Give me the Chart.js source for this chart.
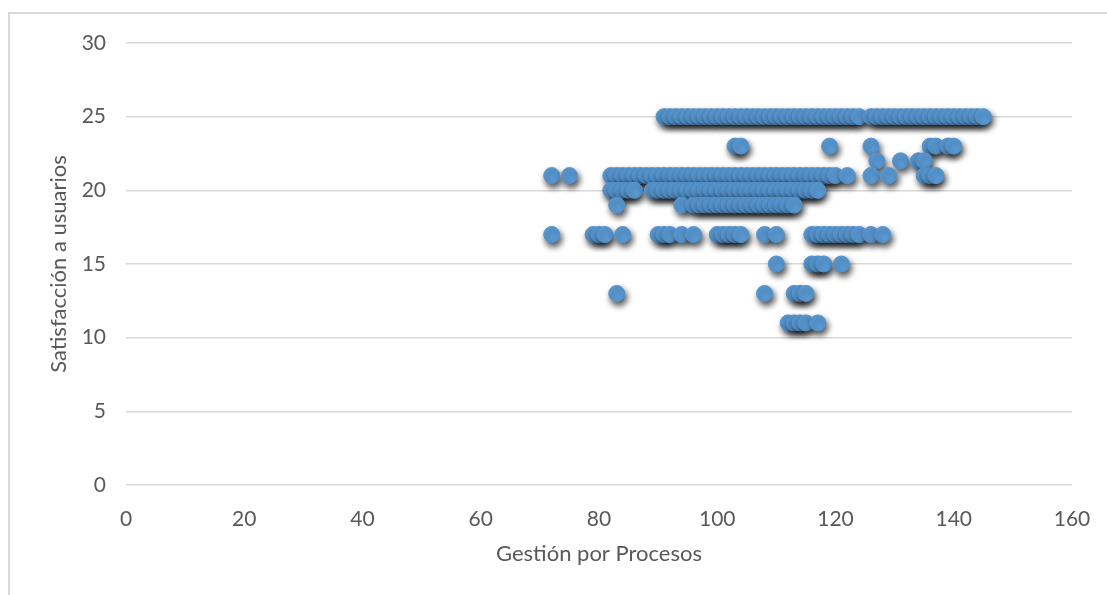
<!DOCTYPE html>
<html>
<head>
<meta charset="utf-8">
<script src="https://cdn.jsdelivr.net/npm/chart.js@4/dist/chart.umd.min.js"></script>
<style>
  html, body { margin: 0; padding: 0; background: #fff; }
  #wrap { position: relative; width: 1107px; height: 595px; }
  #frame { position: absolute; left: 8px; top: 12px; right: 0; bottom: 0;
           border-left: 2px solid #d9d9d9; border-top: 2px solid #d9d9d9; pointer-events: none; }
  canvas { position: absolute; left: 0; top: 0; }
</style>
</head>
<body>
<div id="wrap">
  <canvas id="c" width="1107" height="595"></canvas>
  <div id="frame"></div>
</div>
<script>
// Axis settings / labels
const xTitle = "Gestión por Procesos";
const yTitle = "Satisfacción a usuarios";
const xTicks = [0, 20, 40, 60, 80, 100, 120, 140, 160];
const yTicks = [0, 5, 10, 15, 20, 25, 30];

// Satisfaction levels and the "Gestión por Procesos" values observed at each level
const level25 = [91,92,93,94,95,96,97,98,99,100,101,102,103,104,105,106,107,108,109,110,111,112,113,114,115,116,117,118,119,120,121,122,123,124,126,127,128,129,130,131,132,133,134,135,136,137,138,139,140,141,142,143,144,145];
const level23 = [103,104,119,126,136,137,139,140];
const level22 = [127,131,134,135];
const level21 = [72,75,82,83,84,85,86,87,88,89,90,91,92,93,94,95,96,97,98,99,100,101,102,103,104,105,106,107,108,109,110,111,112,113,114,115,116,117,118,119,120,122,126,129,135,136,137];
const level20 = [82,83,84,85,86,89,90,91,92,93,94,95,96,97,98,99,100,101,102,103,104,105,106,107,108,109,110,111,112,113,114,115,116,117];
const level19 = [83,94,96,97,98,99,100,101,102,103,104,105,106,107,108,109,110,111,112,113];
const level17 = [72,79,80,81,84,90,91,92,94,96,100,101,102,103,104,108,110,116,117,118,119,120,121,122,123,124,126,128];
const level15 = [110,116,117,118,121];
const level13 = [83,108,113,114,115];
const level11 = [112,113,114,115,117];

const levels = [
  [25, level25], [23, level23], [22, level22], [21, level21], [20, level20],
  [19, level19], [17, level17], [15, level15], [13, level13], [11, level11]
];
const points = [];
levels.forEach(([y, xs]) => xs.forEach(x => points.push({ x: x, y: y })));

const shadowPlugin = {
  id: 'shadow',
  beforeDatasetDraw(chart) {
    const ctx = chart.ctx;
    ctx.save();
    ctx.shadowColor = 'rgba(0,0,0,0.7)';
    ctx.shadowBlur = 6;
    ctx.shadowOffsetX = 2;
    ctx.shadowOffsetY = 4;
  },
  afterDatasetDraw(chart) {
    chart.ctx.restore();
  }
};

const tickFont = { family: 'Lato, "Open Sans", sans-serif', size: 21 };
const titleFont = { family: 'Lato, "Open Sans", sans-serif', size: 22 };
const grey = '#595959';

new Chart(document.getElementById('c'), {
  type: 'scatter',
  data: {
    datasets: [{
      data: points,
      backgroundColor: '#5b9bd5',
      borderColor: '#5393cf',
      borderWidth: 1,
      pointRadius: 8,
      pointHoverRadius: 8
    }]
  },
  options: {
    responsive: false,
    animation: false,
    events: [],
    layout: { padding: { left: 0, top: 43, right: 35, bottom: 0 } },
    plugins: { legend: { display: false }, tooltip: { enabled: false } },
    scales: {
      x: {
        type: 'linear',
        min: xTicks[0], max: xTicks[xTicks.length - 1],
        afterBuildTicks(s) { s.ticks = xTicks.map(v => ({ value: v })); },
        afterFit(s) { s.height = 110; },
        grid: { display: false },
        border: { display: false },
        ticks: { color: grey, font: tickFont, padding: 14, maxRotation: 0 },
        title: { display: true, text: xTitle, color: grey, font: titleFont, padding: { top: 0, bottom: 28 } }
      },
      y: {
        type: 'linear',
        min: yTicks[0], max: yTicks[yTicks.length - 1],
        afterBuildTicks(s) { s.ticks = yTicks.map(v => ({ value: v })); },
        afterFit(s) { s.width = 126; },
        grid: { color: '#d9d9d9', lineWidth: 1.5, drawTicks: false },
        border: { display: false },
        ticks: { color: grey, font: tickFont, padding: 20 },
        title: { display: true, text: yTitle, color: grey, font: titleFont, padding: { top: 46, bottom: 0 } }
      }
    }
  },
  plugins: [shadowPlugin]
});
</script>
</body>
</html>
